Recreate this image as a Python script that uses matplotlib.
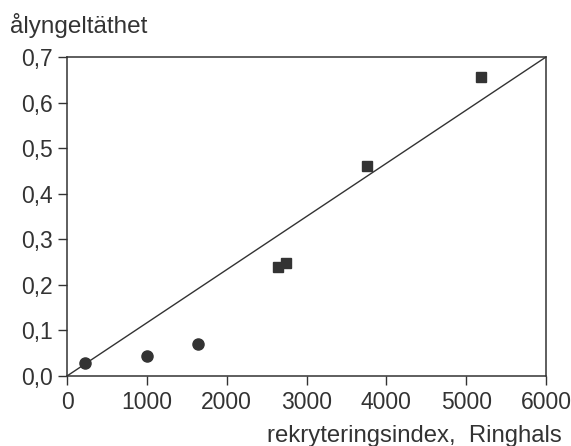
import numpy as np
import matplotlib
matplotlib.use('Agg')
from matplotlib import pyplot as pl

pl.rcParams['font.family'] = ['Liberation Sans', 'DejaVu Sans']

# circles (low index)
circ_x = [225, 1000, 1640]
circ_y = [0.028, 0.044, 0.070]
# squares (high index)
sq_x = [2640, 2740, 3760, 5190]
sq_y = [0.239, 0.248, 0.461, 0.656]
# reference line
line_x = [0, 6000]
line_y = [0.0, 0.7]

xticks = [0, 1000, 2000, 3000, 4000, 5000, 6000]
yticks = [0.0, 0.1, 0.2, 0.3, 0.4, 0.5, 0.6, 0.7]
ylabels = ['0,0', '0,1', '0,2', '0,3', '0,4', '0,5', '0,6', '0,7']

col = '#333333'

fig = pl.figure(figsize=(5.71, 4.46), dpi=100)
ax = fig.add_axes([67/571, 70/446, 479/571, 319/446])

ax.plot(line_x, line_y, color=col, lw=1.0, solid_capstyle='butt')
ax.plot(circ_x, circ_y, 'o', color=col, ms=8, mec=col)
ax.plot(sq_x, sq_y, 's', color=col, ms=6.5, mec=col)

ax.set_xlim(0, 6000)
ax.set_ylim(0, 0.7)
ax.set_xticks(xticks)
ax.set_xticklabels([str(t) for t in xticks])
ax.set_yticks(yticks)
ax.set_yticklabels(ylabels)
ax.tick_params(direction='out', length=6.5, width=1.0, color=col,
               labelsize=16.5, labelcolor=col)
ax.tick_params(axis='x', pad=4)
ax.tick_params(axis='y', pad=4)
for s in ax.spines.values():
    s.set_color(col)
    s.set_linewidth(1.1)

fig.text(10/571, 1 - 33/446, 'ålyngeltäthet', fontsize=17.5, color=col,
         ha='left', va='baseline')
fig.text(562/571, 1 - 442/446, 'rekryteringsindex,  Ringhals', fontsize=17.2,
         color=col, ha='right', va='baseline')

fig.savefig('out.png', dpi=100)
